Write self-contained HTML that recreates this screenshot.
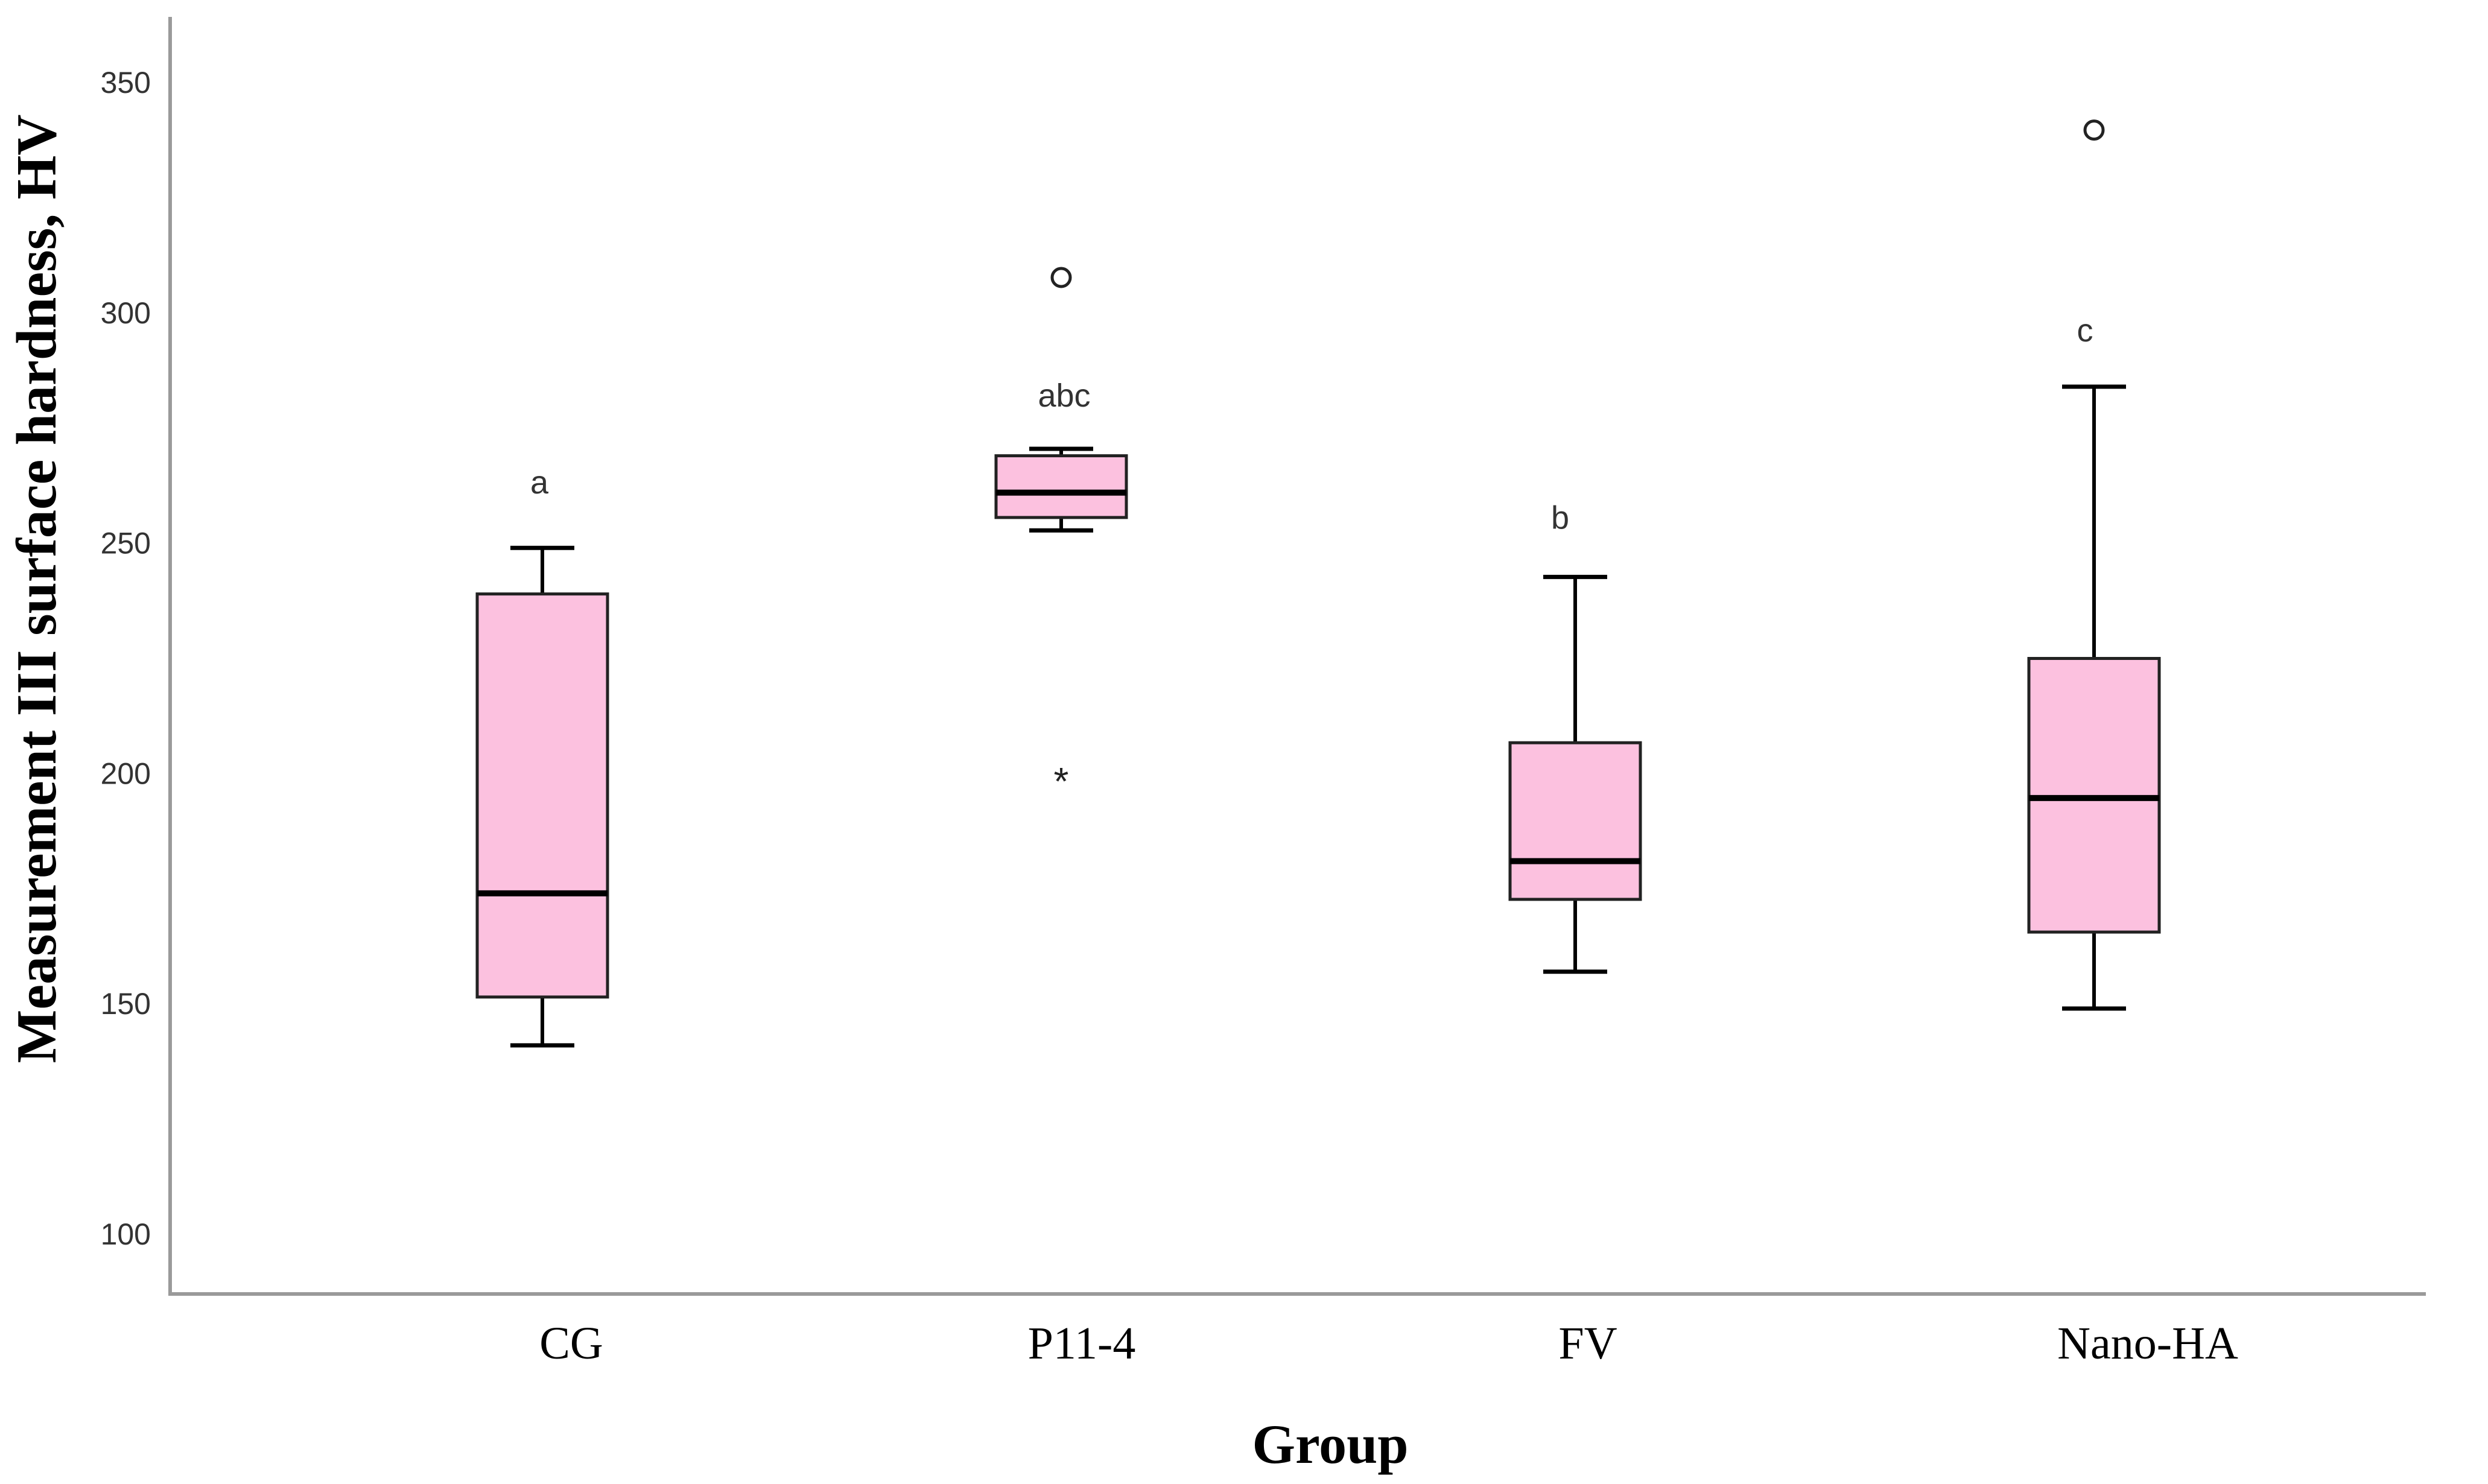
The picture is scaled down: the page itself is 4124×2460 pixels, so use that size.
<!DOCTYPE html>
<html><head><meta charset="utf-8"><style>
html,body{margin:0;padding:0;background:#fff;width:4124px;height:2460px;overflow:hidden}
</style></head><body>
<svg id="chart" width="4124" height="2460" xmlns="http://www.w3.org/2000/svg">
<g id="axes"></g>
<g id="marks"></g>
<text transform="translate(92,976) rotate(-90)" text-anchor="middle" font-family="Liberation Serif, serif" font-weight="bold" font-size="94">Measurement III surface hardness, HV</text>
<text x="2205" y="2425" text-anchor="middle" font-family="Liberation Serif, serif" font-weight="bold" font-size="92">Group</text>
</svg>
<script>
const categories = ["CG","P11-4","FV","Nano-HA"];
const whiskerLow = [141,252.8,157,149];
const q1 = [151.5,255.6,172.7,165.6];
const median = [174,261,181,194.7];
const q3 = [239,269,206.7,225];
const whiskerHigh = [249,270.5,242.7,284];
const sigLetters = ["a","abc","b","c"];
const circleOutliers = [[],[307.7],[],[339.7]];
const starOutliers = [[],[199.4],[],[]];
const yTicks = [100,150,200,250,300,350];

const NS="http://www.w3.org/2000/svg";
const y = v => 137 + (350 - v) * 7.636;
const x = i => [899,1759,2611,3471][i];
const labelX = [947,1793,2632,3560];
const axes=document.getElementById('axes'), marks=document.getElementById('marks');
function mk(tag,attrs,parent){const e=document.createElementNS(NS,tag);for(const k in attrs)e.setAttribute(k,attrs[k]);parent.appendChild(e);return e;}

let e=mk('line',{x1:282,y1:28,x2:282,y2:2148,stroke:'#9a9a9a','stroke-width':6},axes);


e=mk('line',{x1:279,y1:2145,x2:4021,y2:2145,stroke:'#9a9a9a','stroke-width':6},axes);


yTicks.forEach(t=>{
  const tx=mk('text',{x:250,y:y(t)+17,'text-anchor':'end','font-family':'Liberation Sans, sans-serif','font-size':50,fill:'#333'},axes);
  tx.textContent=t;
  
  
});
categories.forEach((c,i)=>{
  const tx=mk('text',{x:labelX[i],y:2252,'text-anchor':'middle','font-family':'Liberation Serif, serif','font-size':76,fill:'#000'},axes);
  tx.textContent=c;
  
  
});
categories.forEach((c,i)=>{
  const cx=x(i), hw=108, cw=53;
  const g=mk('g',{},marks);
  
  
  mk('line',{x1:cx,y1:y(whiskerHigh[i]),x2:cx,y2:y(q3[i]),stroke:'#000','stroke-width':6},g);
  mk('line',{x1:cx,y1:y(q1[i]),x2:cx,y2:y(whiskerLow[i]),stroke:'#000','stroke-width':6},g);
  mk('line',{x1:cx-cw,y1:y(whiskerHigh[i]),x2:cx+cw,y2:y(whiskerHigh[i]),stroke:'#000','stroke-width':7},g);
  mk('line',{x1:cx-cw,y1:y(whiskerLow[i]),x2:cx+cw,y2:y(whiskerLow[i]),stroke:'#000','stroke-width':7},g);
  mk('rect',{x:cx-hw,y:y(q3[i]),width:2*hw,height:y(q1[i])-y(q3[i]),fill:'#fcc1df',stroke:'#222','stroke-width':5},g);
  mk('line',{x1:cx-hw,y1:y(median[i]),x2:cx+hw,y2:y(median[i]),stroke:'#000','stroke-width':10},g);
  circleOutliers[i].forEach(v=>{
    const o=mk('circle',{cx:cx,cy:y(v),r:15,fill:'none',stroke:'#222','stroke-width':5},g);
    
    
  });
  starOutliers[i].forEach(v=>{
    const s=mk('text',{x:cx,y:y(v)+30,'text-anchor':'middle','font-family':'Liberation Sans, sans-serif','font-size':64,fill:'#222'},g);
    s.textContent='*';
    
    
  });
  const l=mk('text',{x:cx+(i==1?5:(i==3?-15:(i==2?-25:-5))),y:y(whiskerHigh[i])-(i==1?70:(i==3?75:(i==2?80:90))),'text-anchor':'middle','font-family':'Liberation Sans, sans-serif','font-size':54,fill:'#333'},g);
  l.textContent=sigLetters[i];
  
  
});
</script>
</body></html>
